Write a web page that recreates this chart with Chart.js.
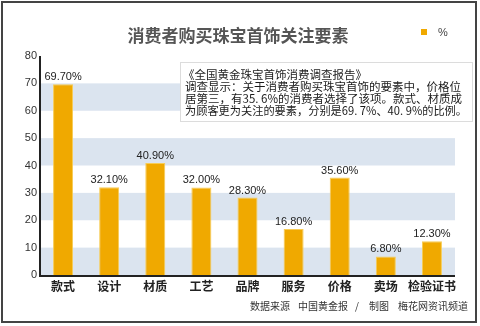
<!DOCTYPE html>
<html><head><meta charset="utf-8">
<script src="https://cdn.jsdelivr.net/npm/chart.js@4/dist/chart.umd.min.js"></script>
<style>html,body{margin:0;padding:0;background:#fff;}canvas{display:block;}</style>
</head><body>
<canvas id="c" width="480" height="326"></canvas>
<script>
const categories = ["款式","设计","材质","工艺","品牌","服务","价格","卖场","检验证书"];
const values = [69.7, 32.1, 40.9, 32.0, 28.3, 16.8, 35.6, 6.8, 12.3];
const seriesName = "%";
const yTicks = [0,10,20,30,40,50,60,70,80];
const bands = [[0,10],[20,30],[40,50],[60,70]];
const titleText = "消费者购买珠宝首饰关注要素";
const noteLines = ["《全国黄金珠宝首饰消费调查报告》","调查显示：关于消费者购买珠宝首饰的要素中，价格位","居第三，有35. 6%的消费者选择了该项。款式、材质成","为顾客更为关注的要素，分别是69. 7%、40. 9%的比例。"];
const footerParts = [["数据来源",250],["中国黄金报",298],["/",355],["制图",369],["梅花网资讯频道",398]];

const CJK = '"Noto Sans CJK SC", "Liberation Sans", sans-serif';
const SANS = '"Liberation Sans", Arial, sans-serif';

const decor = {
  id:'decor',
  beforeDraw(chart){
    const ctx = chart.ctx, ca = chart.chartArea, y = chart.scales.y;
    ctx.save();
    ctx.fillStyle = '#fff';
    ctx.fillRect(0,0,chart.width,chart.height);
    ctx.fillStyle = '#dbe4ef';
    bands.forEach(b=>{
      const y1 = y.getPixelForValue(b[1]), y0 = y.getPixelForValue(b[0]);
      ctx.fillRect(ca.left, y1, ca.right-ca.left, y0-y1);
    });
    // note box
    ctx.fillStyle = '#fff';
    ctx.fillRect(180,62,292,59);
    ctx.strokeStyle = '#dcdcdc'; ctx.lineWidth = 1;
    ctx.strokeRect(180.5,62.5,292,59);
    ctx.restore();
  },
  afterDraw(chart){
    const ctx = chart.ctx, ca = chart.chartArea;
    ctx.save();
    // axes lines
    ctx.strokeStyle = '#222'; ctx.lineWidth = 2;
    ctx.beginPath(); ctx.moveTo(ca.left, ca.top); ctx.lineTo(ca.left, ca.bottom+1); ctx.lineTo(ca.right, ca.bottom+1); ctx.stroke();
    // title
    ctx.fillStyle = '#555'; ctx.font = 'bold 17px '+CJK; ctx.textAlign='center'; ctx.textBaseline='middle';
    ctx.fillText(titleText, 238, 36);
    // legend
    const ds = chart.data.datasets[0];
    ctx.fillStyle = ds.backgroundColor; ctx.fillRect(421,29,6,6);
    ctx.fillStyle = '#444'; ctx.font = '11px '+SANS; ctx.textAlign='left';
    ctx.fillText(ds.label, 438, 33);
    // value labels
    const meta = chart.getDatasetMeta(0);
    ctx.fillStyle = '#222'; ctx.font = '11px '+SANS; ctx.textAlign='center'; ctx.textBaseline='alphabetic';
    meta.data.forEach((bar,i)=>{
      ctx.fillText(values[i].toFixed(2)+'%', bar.x, bar.y-4);
    });
    // note text
    ctx.fillStyle = '#1a1a1a'; ctx.font = '11.5px '+CJK; ctx.textAlign='left'; ctx.textBaseline='middle';
    noteLines.forEach((l,i)=>{
      const x = i===0?183:185;
      ctx.fillText(l, x, 75+i*11.8, i===0?undefined:282);
    });
    // footer
    ctx.fillStyle = '#333'; ctx.font = '10px '+CJK;
    footerParts.forEach(p=>ctx.fillText(p[0], p[1], 306));
    // frame
    ctx.strokeStyle = '#444'; ctx.lineWidth = 2;
    ctx.strokeRect(2,2,474,320);
    ctx.restore();
  }
};

new Chart(document.getElementById('c'), {
  type:'bar',
  data:{ labels:categories, datasets:[{ label:seriesName, data:values, backgroundColor:'#f0a900', borderColor:'#f7cc55', borderWidth:1, barPercentage:0.434, categoryPercentage:1 }]},
  options:{
    responsive:false, animation:false,
    layout:{ padding:{ left:0, right:25, top:56, bottom:0 } },
    plugins:{ legend:{display:false}, title:{display:false}, tooltip:{enabled:false} },
    scales:{
      x:{ grid:{display:false, drawTicks:false}, border:{display:false},
          ticks:{ color:'#222', font:{family:CJK, size:12, weight:'bold'}, padding:4, autoSkip:false, maxRotation:0 },
          afterFit(s){ s.height = 51; } },
      y:{ min:0, max:80, grid:{display:false, drawTicks:false}, border:{display:false},
          afterBuildTicks(s){ s.ticks = yTicks.map(v=>({value:v})); },
          ticks:{ color:'#333', font:{family:SANS, size:11}, padding:3 },
          afterFit(s){ s.width = 40; } }
    }
  },
  plugins:[decor]
});
</script>
</body></html>
